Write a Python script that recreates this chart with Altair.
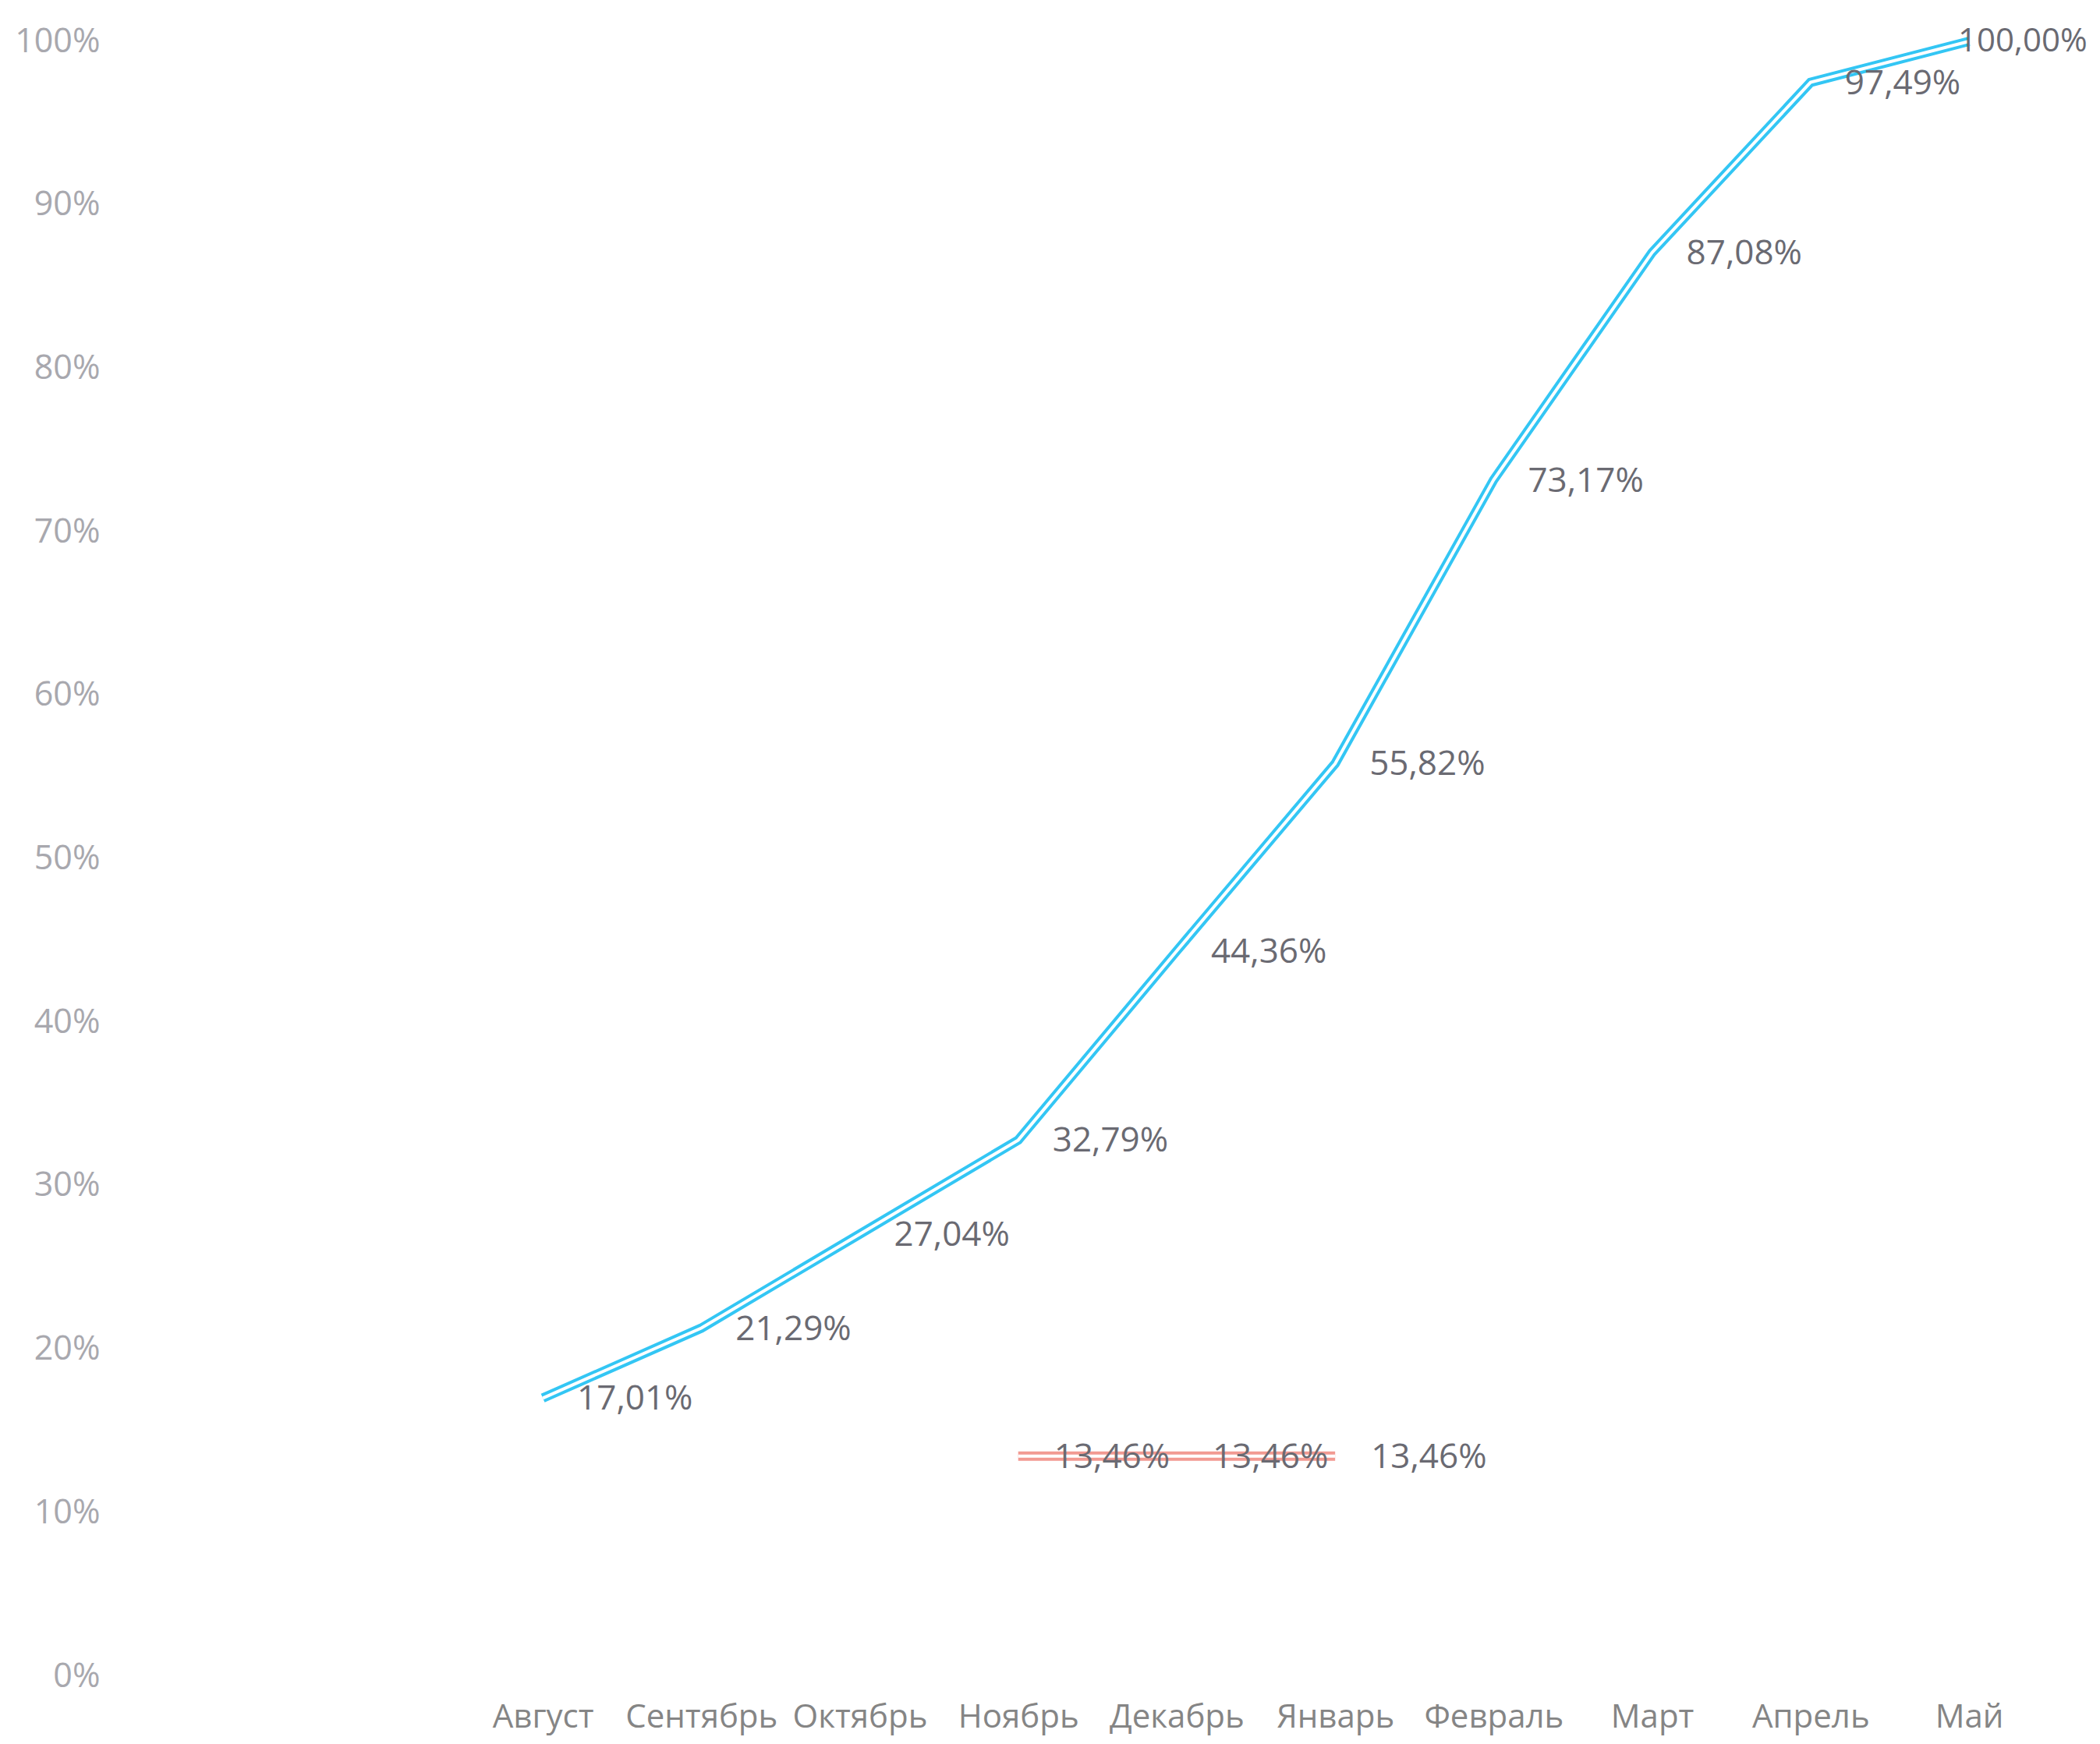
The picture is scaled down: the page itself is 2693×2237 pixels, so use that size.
import json
import altair as alt
import pandas as pd

months = ["Август", "Сентябрь", "Октябрь", "Ноябрь", "Декабрь",
          "Январь", "Февраль", "Март", "Апрель", "Май"]
cumulative_pct = [17.01, 21.29, 27.04, 32.79, 44.36, 55.82, 73.17, 87.08, 97.49, 100.00]
red_months = ["Ноябрь", "Декабрь", "Январь"]
red_pct = [13.46, 13.46, 13.46]
y_ticks = [0.0, 0.1, 0.2, 0.3, 0.4, 0.5, 0.6, 0.7, 0.8, 0.9, 1.0]


def fmt(v):
    return f"{v:.2f}".replace(".", ",") + "%"


blue = pd.DataFrame({
    "month": months,
    "idx": list(range(len(months))),
    "value": [v / 100 for v in cumulative_pct],
    "label": [fmt(v) for v in cumulative_pct],
})
red = pd.DataFrame({
    "month": red_months,
    "idx": [months.index(m) for m in red_months],
    "value": [v / 100 for v in red_pct],
    "label": [fmt(v) for v in red_pct],
})

FONT = "Open Sans"
label_expr = json.dumps(months) + "[datum.value]"

x = alt.X("idx:Q",
          scale=alt.Scale(domain=[-2.697, 9.487], nice=False, zero=False),
          axis=alt.Axis(values=list(range(len(months))), labelExpr=label_expr,
                        title=None, grid=False, domain=False, ticks=False,
                        labelFont=FONT, labelFontSize=42, labelColor="#858585",
                        labelPadding=32, labelOverlap=False, labelFlush=False,
                        labelLimit=0))
y = alt.Y("value:Q",
          scale=alt.Scale(domain=[0, 1], nice=False),
          axis=alt.Axis(values=y_ticks, format=".0%", title=None, grid=False,
                        domain=False, ticks=False, labelFont=FONT,
                        labelFontSize=43, labelColor="#A8A8AE", labelPadding=20))

base_b = alt.Chart(blue)
base_r = alt.Chart(red)

blue_outer = base_b.mark_line(color="#33C6F4", strokeWidth=12).encode(x=x, y=y)
blue_inner = base_b.mark_line(color="#FFFFFF", strokeWidth=4).encode(x=x, y=y)
red_outer = base_r.mark_line(color="#F29A92", strokeWidth=12).encode(x=x, y=y)
red_inner = base_r.mark_line(color="#FFFFFF", strokeWidth=4).encode(x=x, y=y)

blue_labels = base_b.transform_filter(alt.datum.idx < 9).mark_text(
    align="left", baseline="middle", dx=44, dy=2, font=FONT, fontSize=44,
    color="#6A6A72").encode(x=x, y=y, text="label:N")
last_label = base_b.transform_filter(alt.datum.idx == 9).mark_text(
    align="left", baseline="middle", dx=-14, dy=0, font=FONT, fontSize=42,
    color="#6A6A72").encode(x=x, y=y, text="label:N")
red_labels = base_r.mark_text(
    align="left", baseline="middle", dx=46, dy=2, font=FONT, fontSize=44,
    color="#6A6A72").encode(x=x, y=y, text="label:N")

chart = alt.layer(
    blue_outer, blue_inner, red_outer, red_inner, blue_labels, last_label, red_labels
).properties(
    width=2476, height=2097,
    autosize=alt.AutoSizeParams(type="none"),
    padding={"left": 140, "top": 45, "right": 60, "bottom": 80},
    background="#FFFFFF",
).configure_view(stroke=None)

chart.save("out.html", embed_options={"renderer": "svg", "actions": False})
